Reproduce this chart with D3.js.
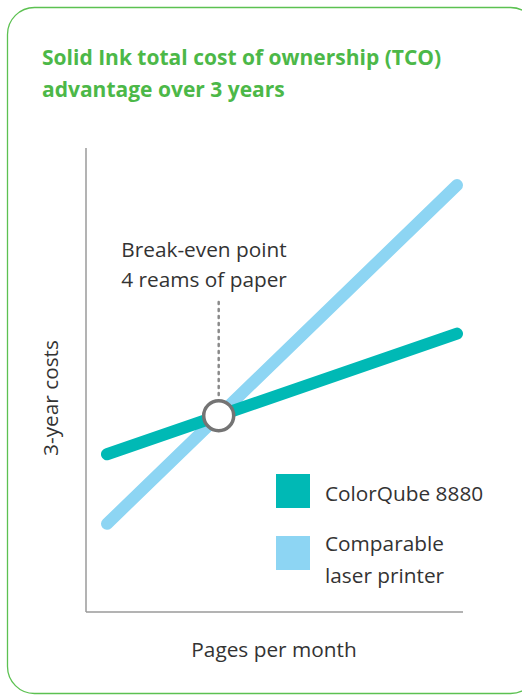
<!DOCTYPE html>
<meta charset="utf-8">
<style>
body { margin: 0; background: #fff; }
text { font-family: "Open Sans", "Noto Sans", sans-serif; fill: #333; }
</style>
<body>
<script src="https://d3js.org/d3.v7.min.js"></script>
<script>
var width = 522,
    height = 695;

// data (arbitrary units, no ticks in the original)
var pages = [1, 10];
var colorQube = [3.4, 6.0];
var laser = [1.9, 9.2];
var seriesNames = ["ColorQube 8880", ["Comparable", "laser printer"]];
var seriesColors = ["#00b9b5", "#8dd5f3"];
var title = ["Solid Ink total cost of ownership (TCO)", "advantage over 3 years"];
var note = ["Break-even point", "4 reams of paper"];

var x = d3.scaleLinear().domain([0, 10]).range([68.1, 457]);
var y = d3.scaleLinear().domain([0, 10]).range([612, 148]);

var svg = d3.select("body").append("svg")
    .attr("width", width)
    .attr("height", height);

// card border
svg.append("rect")
    .attr("x", 7.5).attr("y", 7.5)
    .attr("width", 530).attr("height", 686)
    .attr("rx", 27)
    .attr("fill", "none")
    .attr("stroke", "#5cc151")
    .attr("stroke-width", 1.3);

svg.append("text")
    .attr("x", 42).attr("y", 65)
    .style("fill", "#4cb848")
    .style("font-weight", "bold")
    .style("font-size", "21px")
    .selectAll("tspan").data(title).enter().append("tspan")
    .attr("x", 42)
    .attr("dy", function(d, i) { return i ? 32 : 0; })
    .text(function(d) { return d; });

// axes (no ticks)
var xAxis = d3.axisBottom(x).ticks(0).tickSize(0).tickSizeOuter(0);
var yAxis = d3.axisLeft(y).ticks(0).tickSize(0).tickSizeOuter(0);
var gx = svg.append("g").attr("transform", "translate(0,612)").call(xAxis);
gx.select(".domain").attr("d", "M86,0H463").attr("stroke", "#9a9a9a").attr("stroke-width", 1.5);
var gy = svg.append("g").attr("transform", "translate(86,0)").call(yAxis);
gy.select(".domain").attr("d", "M0,148V612").attr("stroke", "#9a9a9a").attr("stroke-width", 1.5);

svg.append("text")
    .attr("x", 274).attr("y", 657)
    .attr("text-anchor", "middle")
    .style("font-size", "20.8px")
    .text("Pages per month");

svg.append("text")
    .attr("transform", "translate(58,398) rotate(-90)")
    .attr("text-anchor", "middle")
    .style("font-size", "20.8px")
    .text("3-year costs");

// lines
var line = d3.line().x(function(d) { return x(d[0]); }).y(function(d) { return y(d[1]); });
[laser, colorQube].forEach(function(vals, i) {
  svg.append("path")
      .datum(pages.map(function(p, j) { return [p, vals[j]]; }))
      .attr("d", line)
      .attr("fill", "none")
      .attr("stroke", i ? seriesColors[0] : seriesColors[1])
      .attr("stroke-width", 12)
      .attr("stroke-linecap", "round");
});

// break-even point
var s1 = (colorQube[1] - colorQube[0]) / (pages[1] - pages[0]),
    s2 = (laser[1] - laser[0]) / (pages[1] - pages[0]);
var bx = pages[0] + (colorQube[0] - laser[0]) / (s2 - s1),
    by = colorQube[0] + s1 * (bx - pages[0]);

svg.append("line")
    .attr("x1", x(bx)).attr("x2", x(bx))
    .attr("y1", 302).attr("y2", y(by) - 16)
    .attr("stroke", "#8a8a8a")
    .attr("stroke-width", 2.5)
    .attr("stroke-dasharray", "2,5")
    .attr("stroke-linecap", "round");

svg.append("circle")
    .attr("cx", x(bx)).attr("cy", y(by))
    .attr("r", 15)
    .attr("fill", "#fff")
    .attr("stroke", "#747474")
    .attr("stroke-width", 3.5);

svg.append("text")
    .attr("text-anchor", "middle")
    .style("font-size", "20.8px")
    .selectAll("tspan").data(note).enter().append("tspan")
    .attr("x", 204)
    .attr("y", function(d, i) { return 257 + i * 30; })
    .text(function(d) { return d; });

// legend
var leg = svg.selectAll(".leg").data(seriesNames).enter().append("g")
    .attr("class", "leg")
    .attr("transform", function(d, i) { return "translate(276," + (474 + i * 62) + ")"; });
leg.append("rect")
    .attr("width", 34).attr("height", 34)
    .attr("fill", function(d, i) { return seriesColors[i]; });
leg.append("text")
    .style("font-size", "20.8px")
    .selectAll("tspan")
    .data(function(d) { return [].concat(d); })
    .enter().append("tspan")
    .attr("x", 49)
    .attr("y", function(d, i) { return 27 + i * 32 - (this.parentNode.__data__ instanceof Array ? 12 : 0); })
    .text(function(d) { return d; });
</script>
</body>
</html>
